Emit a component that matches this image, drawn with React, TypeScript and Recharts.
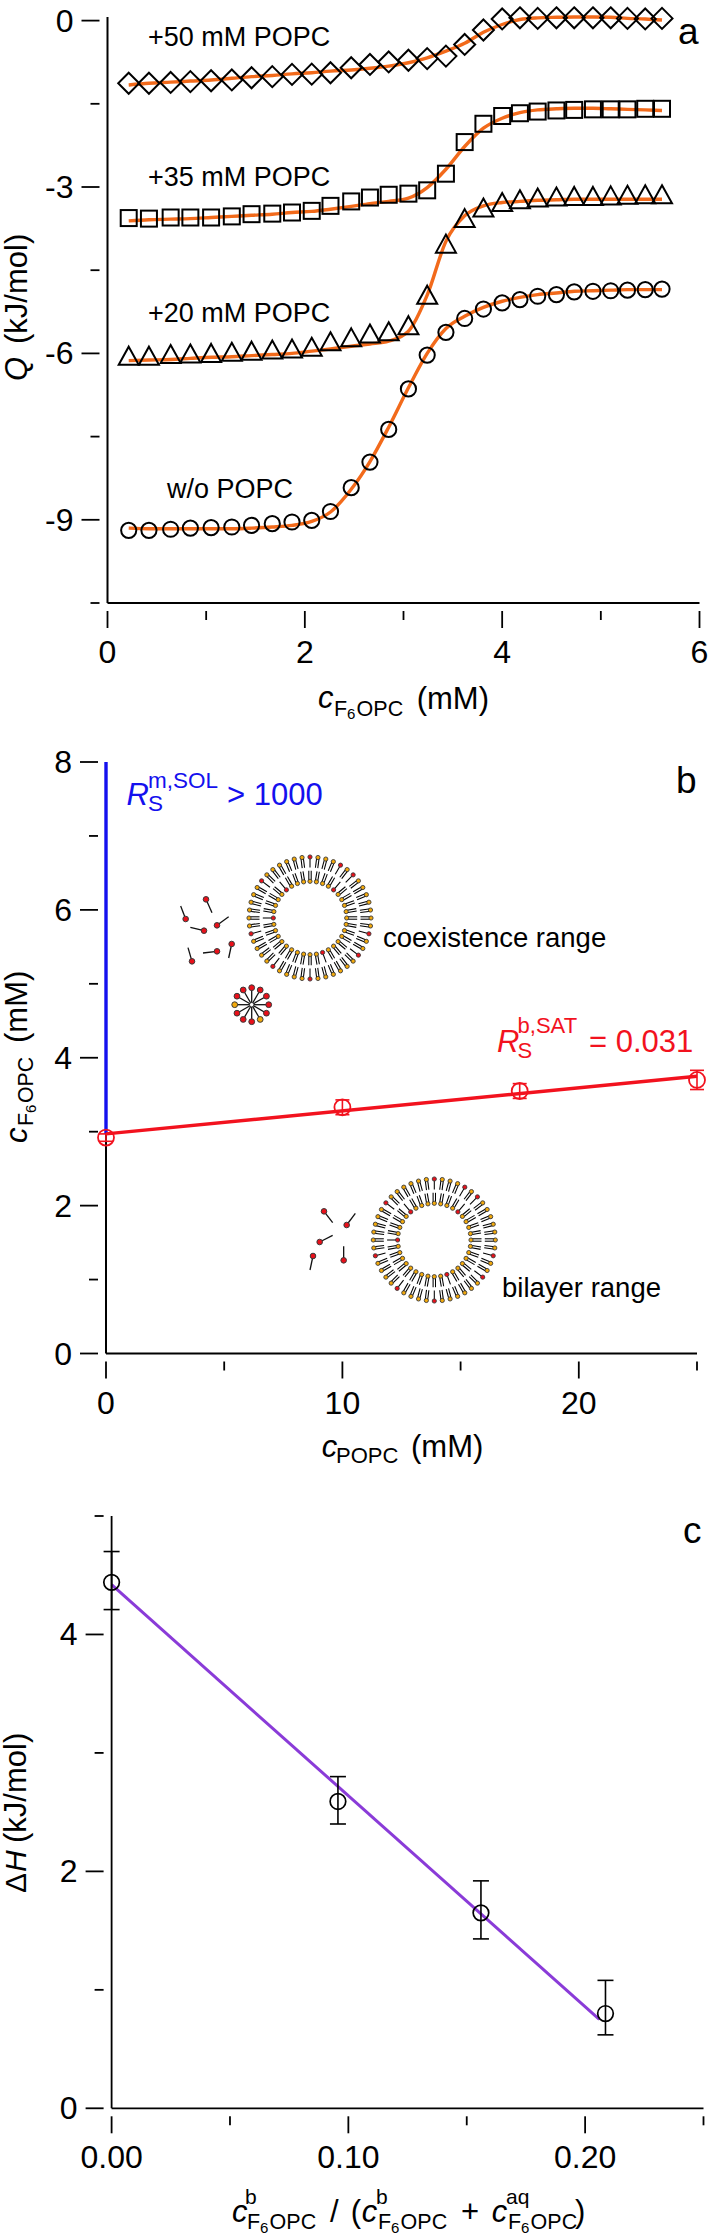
import React from "react";
import { ComposedChart, Line, XAxis, YAxis, ErrorBar } from "recharts";

// ---------- panel a ----------
const titrantConc = [0.215,0.42,0.64,0.84,1.05,1.26,1.46,1.67,1.87,2.07,2.26,2.47,2.66,2.85,3.05,3.24,3.43,3.62,3.81,4.0,4.18,4.36,4.55,4.73,4.92,5.1,5.27,5.45,5.62];
const q50 = [-1.13,-1.13,-1.115,-1.1,-1.085,-1.07,-1.03,-1.01,-0.97,-0.965,-0.94,-0.85,-0.79,-0.745,-0.715,-0.685,-0.64,-0.43,-0.17,0.03,0.05,0.04,0.05,0.05,0.05,0.05,0.04,0.03,0.04];
const fit50 = [-1.16,-1.13,-1.11,-1.09,-1.07,-1.04,-1.01,-0.99,-0.96,-0.94,-0.91,-0.89,-0.86,-0.82,-0.76,-0.67,-0.55,-0.41,-0.21,-0.07,0.02,0.05,0.06,0.065,0.065,0.06,0.04,0.03,0.01];
const q35 = [-3.56,-3.57,-3.55,-3.55,-3.55,-3.53,-3.49,-3.48,-3.46,-3.43,-3.34,-3.26,-3.19,-3.14,-3.12,-3.06,-2.76,-2.19,-1.86,-1.72,-1.67,-1.64,-1.62,-1.61,-1.6,-1.6,-1.6,-1.59,-1.59];
const fit35 = [-3.61,-3.59,-3.58,-3.57,-3.55,-3.53,-3.51,-3.49,-3.46,-3.44,-3.4,-3.35,-3.3,-3.26,-3.2,-3.01,-2.68,-2.27,-1.94,-1.76,-1.66,-1.61,-1.59,-1.58,-1.58,-1.59,-1.6,-1.61,-1.62];
const q20 = [-6.05,-6.05,-6.02,-6.01,-6.0,-5.98,-5.96,-5.94,-5.92,-5.89,-5.79,-5.72,-5.65,-5.61,-5.5,-4.95,-4.03,-3.57,-3.38,-3.28,-3.23,-3.2,-3.18,-3.17,-3.17,-3.16,-3.15,-3.14,-3.14];
const fit20 = [-6.13,-6.12,-6.11,-6.09,-6.07,-6.06,-6.04,-6.02,-6.0,-5.96,-5.92,-5.87,-5.83,-5.78,-5.6,-4.95,-3.98,-3.52,-3.34,-3.28,-3.26,-3.24,-3.23,-3.22,-3.22,-3.22,-3.22,-3.22,-3.22];
const q0 = [-9.19,-9.19,-9.17,-9.15,-9.14,-9.13,-9.1,-9.07,-9.04,-9.01,-8.85,-8.42,-7.96,-7.37,-6.64,-6.03,-5.62,-5.37,-5.2,-5.09,-5.03,-4.97,-4.94,-4.89,-4.88,-4.87,-4.86,-4.85,-4.84];
const fit0 = [-9.15,-9.16,-9.16,-9.16,-9.16,-9.16,-9.15,-9.13,-9.1,-9.03,-8.86,-8.45,-7.95,-7.33,-6.62,-6.0,-5.55,-5.33,-5.17,-5.06,-4.99,-4.94,-4.91,-4.88,-4.87,-4.86,-4.85,-4.85,-4.85];
const panelARows = titrantConc.map((x, i) => ({ x, q50: q50[i], fit50: fit50[i], q35: q35[i], fit35: fit35[i], q20: q20[i], fit20: fit20[i], q0: q0[i], fit0: fit0[i] }));
const aXTicks = [0,1,2,3,4,5,6];
const aXMajor = [0,2,4,6];
const aYTicks = [0,-1.5,-3,-4.5,-6,-7.5,-9,-10.5];
const aYMajor = [0,-3,-6,-9];

// ---------- panel b ----------
const baselineAxis = [{ x: 0, y: 0 }, { x: 0, y: 2.97 }];
const solubilityLine = [{ x: 0, y: 2.97 }, { x: 0, y: 8 }];
const saturationLine = [{ x: 0, y: 2.97 }, { x: 25, y: 3.75 }];
const popcConc = [0, 10, 17.5, 25];
const f6Conc = [2.92, 3.33, 3.55, 3.7];
const f6Err = [0.05, 0.1, 0.1, 0.13];
const boundaryPts = popcConc.map((x, i) => ({ x, y: f6Conc[i], err: f6Err[i] }));
const bXTicks = [0,5,10,15,20,25];
const bXMajor = [0,10,20];
const bYTicks = [0,1,2,3,4,5,6,7,8];
const bYMajor = [0,2,4,6,8];

// ---------- panel c ----------
const fractions = [0, 0.0956, 0.156, 0.2086];
const enthalpy = [4.44, 2.59, 1.65, 0.8];
const errLow = [0.23, 0.19, 0.22, 0.18];
const errHigh = [0.26, 0.21, 0.27, 0.28];
const enthalpyPts = fractions.map((x, i) => ({ x, y: enthalpy[i], err: [errLow[i], errHigh[i]] }));
const enthalpyFit = [{ x: 0, y: 4.42 }, { x: 0.206, y: 0.75 }];
const cXTicks = [0,0.05,0.1,0.15,0.2,0.25];
const cXMajor = [0,0.1,0.2];
const cYTicks = [0,1,2,3,4,5];
const cYMajor = [0,2,4];

// ---------- vesicle cartoon ----------
const outerRedAngles = [-90,-60,-45,14,37,90,128,166,218];
const innerRedAngles = [-50,230,180,70];
const monomersB = [[168,298,186,338],[107,357,92,318],[162,392,121,382],[201,376,236,350],[245,432,236,474],[201,454,159,459],[126,484,114,443]];
const monomersBilayer = [[222,274,248,308],[290,315,316,280],[209,366,248,346],[189,408,180,450],[281,421,281,379]];
const micelleOrangeAngles = [180,60];

const FONT = "'Liberation Sans', Arial, sans-serif";
const ORANGE = "#F26A1B";
const RED = "#F2121E";
const BLUE = "#1410EE";
const PURPLE = "#8A3BD8";
const HEAD_ORANGE = "#F2A90C";
const HEAD_RED = "#E8101A";

const XTick = ({ x, y, payload, majors, fmt }: any) => {
  const major = majors.includes(payload.value);
  return (
    <g>
      <line x1={x} x2={x} y1={y} y2={y + (major ? 17 : 9)} stroke="#000" strokeWidth={1.8} />
      {major && (
        <text x={x} y={y + 52} textAnchor="middle" fontFamily={FONT} fontSize={32} fill="#000">
          {fmt ? fmt(payload.value) : payload.value}
        </text>
      )}
    </g>
  );
};
const YTick = ({ x, y, payload, majors }: any) => {
  const major = majors.includes(payload.value);
  return (
    <g>
      <line x1={x} x2={x - (major ? 18 : 9)} y1={y} y2={y} stroke="#000" strokeWidth={1.8} />
      {major && (
        <text x={x - 26} y={y + 11} textAnchor="end" fontFamily={FONT} fontSize={32} fill="#000">
          {payload.value}
        </text>
      )}
    </g>
  );
};

const marker = (kind: string) => (p: any) => {
  const { cx, cy, index } = p;
  const common = { fill: "none", stroke: "#000", strokeWidth: 2 };
  if (kind === "circle") return <circle key={index} cx={cx} cy={cy} r={7.6} {...common} />;
  if (kind === "square") return <rect key={index} x={cx - 8} y={cy - 8} width={16} height={16} {...common} />;
  if (kind === "diamond") return <path key={index} d={`M${cx} ${cy - 10.5}L${cx + 10.5} ${cy}L${cx} ${cy + 10.5}L${cx - 10.5} ${cy}Z`} {...common} />;
  return <path key={index} d={`M${cx} ${cy - 9.5}L${cx + 10} ${cy + 8.5}L${cx - 10} ${cy + 8.5}Z`} {...common} />;
};
const redCircle = (p: any) => <circle key={p.index} cx={p.cx} cy={p.cy} r={8} fill="none" stroke={RED} strokeWidth={1.8} />;
const blackCircle = (p: any) => <circle key={p.index} cx={p.cx} cy={p.cy} r={7.8} fill="none" stroke="#000" strokeWidth={1.7} />;

const Vesicle = ({ cx, cy }: { cx: number; cy: number }) => {
  const leaflet = (n: number, rHead: number, dir: number, reds: number[]) =>
    Array.from({ length: n }, (_, i) => {
      const a = -90 + (i * 360) / n;
      const t = (a * Math.PI) / 180;
      const ux = Math.cos(t), uy = Math.sin(t);
      const nx = -uy, ny = ux;
      const isRed = reds.some((r) => Math.abs(((a - r + 540) % 360) - 180) < 180 / n);
      const hx = cx + ux * rHead, hy = cy + uy * rHead;
      return (
        <g key={i}>
          {(isRed ? [0] : [-1.2, 1.2]).map((o) => (
            <line key={o} x1={hx + nx * o} y1={hy + ny * o} x2={hx + nx * o + dir * ux * 10.5} y2={hy + ny * o + dir * uy * 10.5} stroke="#000" strokeWidth={1.05} />
          ))}
          <circle cx={hx} cy={hy} r={2.1} fill={isRed ? HEAD_RED : HEAD_ORANGE} stroke="#3a3a3a" strokeWidth={0.9} />
        </g>
      );
    });
  return (
    <g>
      {leaflet(48, 61, -1, outerRedAngles)}
      {leaflet(36, 36.7, 1, innerRedAngles)}
    </g>
  );
};
const Monomer = ({ m, ox, oy }: { m: number[]; ox: number; oy: number }) => (
  <g>
    <line x1={ox + m[0] / 3} y1={oy + m[1] / 3} x2={ox + m[2] / 3} y2={oy + m[3] / 3} stroke="#111" strokeWidth={1.3} />
    <circle cx={ox + m[0] / 3} cy={oy + m[1] / 3} r={2.8} fill={HEAD_RED} stroke="#3a3a3a" strokeWidth={1} />
  </g>
);
const Micelle = ({ cx, cy }: { cx: number; cy: number }) => (
  <g>
    {Array.from({ length: 12 }, (_, i) => {
      const a = i * 30;
      const t = (a * Math.PI) / 180;
      const hx = cx + Math.cos(t) * 17, hy = cy + Math.sin(t) * 17;
      return (
        <g key={i}>
          <line x1={cx} y1={cy} x2={hx} y2={hy} stroke="#111" strokeWidth={1.3} />
          <circle cx={hx} cy={hy} r={2.9} fill={micelleOrangeAngles.includes(a) ? HEAD_ORANGE : HEAD_RED} stroke="#3a3a3a" strokeWidth={1} />
        </g>
      );
    })}
    <circle cx={cx} cy={cy} r={2.2} fill="#fff" stroke="#222" strokeWidth={0.8} />
  </g>
);

// text helpers
const T = ({ x, y, s = 30, i = false, fill = "#000", children, anchor, len }: any) => (
  <text x={x} y={y} fontFamily={FONT} fontSize={s} fontStyle={i ? "italic" : "normal"} fill={fill} textAnchor={anchor}
    {...(len ? { textLength: len, lengthAdjust: "spacingAndGlyphs" } : {})}>
    {children}
  </text>
);
const F6 = ({ x, y, fill = "#000", s = 21.5 }: any) => (
  <g>
    <T x={x} y={y} s={s} fill={fill}>F</T>
    <T x={x + s * 0.6} y={y + 3.5} s={s * 0.7} fill={fill}>6</T>
    <T x={x + s * 1.05} y={y} s={s} fill={fill}>OPC</T>
  </g>
);

const Overlay = () => (
  <svg width={709} height={2235} style={{ position: "absolute", left: 0, top: 0, pointerEvents: "none" }}>
    {/* panel a */}
    <T x={148} y={46} s={27}>+50 mM POPC</T>
    <T x={148} y={185.5} s={27}>+35 mM POPC</T>
    <T x={148} y={322} s={27}>+20 mM POPC</T>
    <T x={167} y={498} s={27}>w/o POPC</T>
    <T x={678} y={44} s={37}>a</T>
    <g transform="translate(27,381) rotate(-90)">
      <T x={0} y={0} s={31} i>Q</T>
      <T x={37} y={0} s={31}>(kJ/mol)</T>
    </g>
    <T x={318} y={708} s={31} i>c</T>
    <F6 x={334} y={715.7} />
    <T x={416.7} y={709} s={31}>(mM)</T>

    {/* panel b */}
    <T x={126.6} y={805} s={31} i fill={BLUE}>R</T>
    <T x={148} y={811} s={22.5} fill={BLUE}>S</T>
    <T x={148} y={788} s={22.5} fill={BLUE}>m,SOL</T>
    <T x={227} y={805} s={31} fill={BLUE}>{"> 1000"}</T>
    <T x={497} y={1052} s={31} i fill={RED}>R</T>
    <T x={517.6} y={1058} s={22} fill={RED}>S</T>
    <T x={517.6} y={1033} s={22} fill={RED}>b,SAT</T>
    <T x={589} y={1052} s={31} fill={RED}>= 0.031</T>
    <T x={676} y={793} s={37}>b</T>
    <T x={383} y={947} s={27.5}>coexistence range</T>
    <T x={502} y={1297} s={27.5}>bilayer range</T>
    <Vesicle cx={310} cy={918} />
    {monomersB.map((m, i) => <Monomer key={i} m={m} ox={150} oy={800} />)}
    <Micelle cx={251.7} cy={1004.7} />
    <Vesicle cx={434.3} cy={1240} />
    {monomersBilayer.map((m, i) => <Monomer key={i} m={m} ox={250} oy={1120} />)}
    <g transform="translate(27,1143) rotate(-90)">
      <T x={0} y={0} s={31} i>c</T>
      <T x={17} y={6} s={21.5}>F</T>
      <T x={30} y={9} s={15}>6</T>
      <T x={40} y={6} s={21.5} len={46}>OPC</T>
      <T x={100} y={0} s={31}>(mM)</T>
    </g>
    <T x={321.7} y={1457} s={31} i>c</T>
    <T x={336} y={1462.7} s={22}>POPC</T>
    <T x={411} y={1457} s={31}>(mM)</T>

    {/* panel c */}
    <T x={683} y={1543} s={37}>c</T>
    <g transform="translate(26,1893) rotate(-90)">
      <T x={0} y={0} s={30}>Δ</T>
      <T x={21} y={0} s={30} i>H</T>
      <T x={50} y={0} s={31}>(kJ/mol)</T>
    </g>
    <T x={232} y={2222} s={31} i>c</T>
    <T x={245} y={2204} s={21}>b</T>
    <F6 x={247} y={2229} />
    <T x={330} y={2222} s={31}>/</T>
    <T x={350.7} y={2222} s={31}>(</T>
    <T x={361.7} y={2222} s={31} i>c</T>
    <T x={376} y={2204} s={21}>b</T>
    <F6 x={378} y={2229} />
    <T x={461} y={2222} s={31}>+</T>
    <T x={491.7} y={2222} s={31} i>c</T>
    <T x={506} y={2204} s={21}>aq</T>
    <F6 x={508} y={2229} />
    <T x={575} y={2222} s={31}>)</T>
  </svg>
);

const Box = ({ top, children }: any) => <div style={{ position: "absolute", left: 0, top }}>{children}</div>;

export default function App() {
  return (
    <div style={{ position: "absolute", left: 0, top: 0, width: 709, height: 2235, background: "#fff", overflow: "hidden" }}>
      <Box top={0}>
        <ComposedChart width={709} height={700} data={panelARows} margin={{ top: 17, right: 9.5, bottom: 0, left: 0 }}>
          <XAxis dataKey="x" type="number" domain={[0, 6]} ticks={aXTicks} interval={0} height={97} tickLine={false} axisLine={{ stroke: "#000", strokeWidth: 2 }} tick={(p: any) => <XTick {...p} majors={aXMajor} />} />
          <YAxis type="number" domain={[-10.5, 0]} ticks={aYTicks} interval={0} width={107.5} tickLine={false} axisLine={{ stroke: "#000", strokeWidth: 2 }} tick={(p: any) => <YTick {...p} majors={aYMajor} />} />
          <Line dataKey="q50" stroke="none" dot={marker("diamond")} isAnimationActive={false} />
          <Line dataKey="q35" stroke="none" dot={marker("square")} isAnimationActive={false} />
          <Line dataKey="q20" stroke="none" dot={marker("triangle")} isAnimationActive={false} />
          <Line dataKey="q0" stroke="none" dot={marker("circle")} isAnimationActive={false} />
          <Line dataKey="fit50" type="monotone" stroke={ORANGE} strokeWidth={3.4} dot={false} isAnimationActive={false} />
          <Line dataKey="fit35" type="monotone" stroke={ORANGE} strokeWidth={3.4} dot={false} isAnimationActive={false} />
          <Line dataKey="fit20" type="monotone" stroke={ORANGE} strokeWidth={3.4} dot={false} isAnimationActive={false} />
          <Line dataKey="fit0" type="monotone" stroke={ORANGE} strokeWidth={3.4} dot={false} isAnimationActive={false} />
        </ComposedChart>
      </Box>
      <Box top={745}>
        <ComposedChart width={709} height={700} margin={{ top: 17, right: 12, bottom: 0, left: 0 }}>
          <XAxis dataKey="x" type="number" domain={[0, 25]} ticks={bXTicks} interval={0} height={91.5} tickLine={false} axisLine={{ stroke: "#000", strokeWidth: 2 }} tick={(p: any) => <XTick {...p} majors={bXMajor} />} />
          <YAxis dataKey="y" type="number" domain={[0, 8]} ticks={bYTicks} interval={0} width={106} tickLine={false} axisLine={false} tick={(p: any) => <YTick {...p} majors={bYMajor} />} />
          <Line data={baselineAxis} dataKey="y" stroke="#000" strokeWidth={2} dot={false} isAnimationActive={false} />
          <Line data={solubilityLine} dataKey="y" stroke={BLUE} strokeWidth={3.4} dot={false} isAnimationActive={false} />
          <Line data={boundaryPts} dataKey="y" stroke="none" dot={redCircle} isAnimationActive={false}>
            <ErrorBar dataKey="err" direction="y" width={7} stroke={RED} strokeWidth={1.6} isAnimationActive={false} />
          </Line>
          <Line data={saturationLine} dataKey="y" stroke={RED} strokeWidth={3.4} dot={false} isAnimationActive={false} />
        </ComposedChart>
      </Box>
      <Box top={1500}>
        <ComposedChart width={709} height={719} margin={{ top: 16, right: 5.5, bottom: 0, left: 0 }}>
          <XAxis dataKey="x" type="number" domain={[0, 0.25]} ticks={cXTicks} interval={0} height={110.7} tickLine={false} axisLine={{ stroke: "#000", strokeWidth: 1.8 }} tick={(p: any) => <XTick {...p} majors={cXMajor} fmt={(v: number) => v.toFixed(2)} />} />
          <YAxis dataKey="y" type="number" domain={[0, 5]} ticks={cYTicks} interval={0} width={111.6} tickLine={false} axisLine={{ stroke: "#000", strokeWidth: 1.8 }} tick={(p: any) => <YTick {...p} majors={cYMajor} />} />
          <Line data={enthalpyFit} dataKey="y" stroke={PURPLE} strokeWidth={3} dot={false} isAnimationActive={false} />
          <Line data={enthalpyPts} dataKey="y" stroke="none" dot={blackCircle} isAnimationActive={false}>
            <ErrorBar dataKey="err" direction="y" width={8} stroke="#000" strokeWidth={1.6} isAnimationActive={false} />
          </Line>
        </ComposedChart>
      </Box>
      <Overlay />
    </div>
  );
}
